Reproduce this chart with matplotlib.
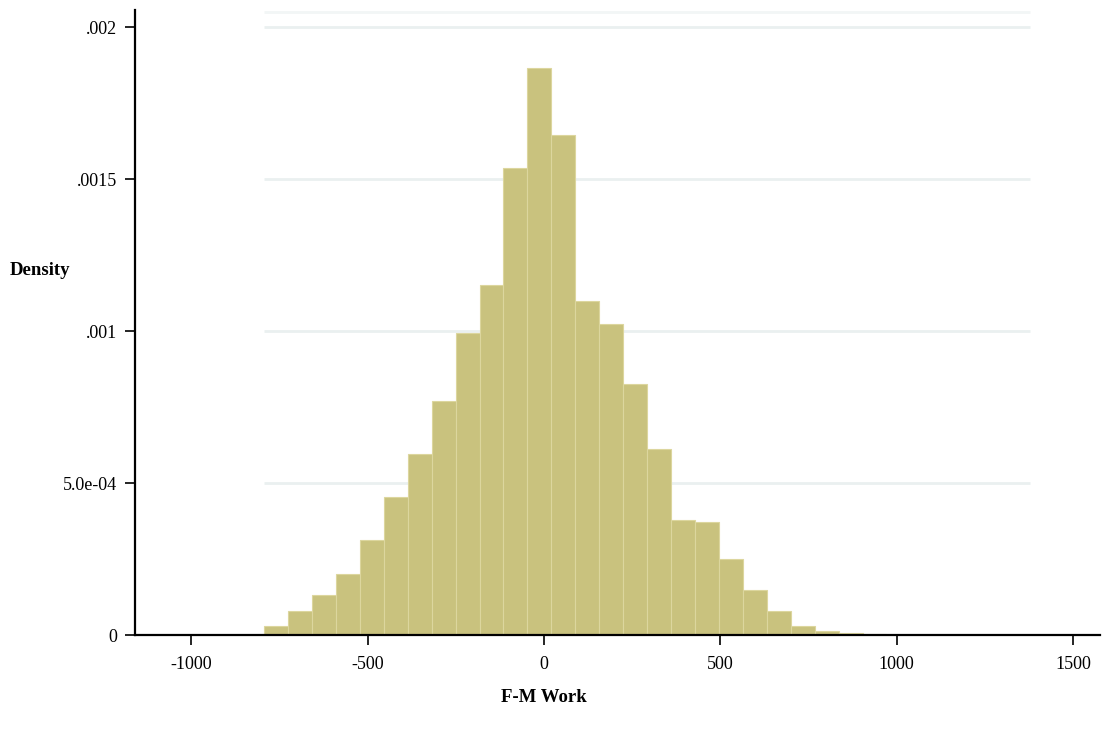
import numpy as np
import matplotlib.pyplot as plt

# histogram of F-M Work (density)
bin_start = -794
bin_width = 67.9
density = [2.96e-5, 7.9e-5, 1.32e-4, 2.01e-4, 3.13e-4, 4.54e-4, 5.95e-4, 7.70e-4,
           9.93e-4, 1.151e-3, 1.536e-3, 1.865e-3, 1.645e-3, 1.099e-3, 1.023e-3, 8.26e-4,
           6.12e-4, 3.78e-4, 3.72e-4, 2.50e-4, 1.48e-4, 7.9e-5, 3.0e-5, 1.3e-5,
           6e-6, 3e-6, 1.5e-6, 1e-6, 1e-6, 1e-6, 0.5e-6, 1e-6]
x_ticks = [-1000, -500, 0, 500, 1000, 1500]
y_ticks = [0, 0.0005, 0.001, 0.0015, 0.002]
y_labels = ['0', '5.0e-04', '.001', '.0015', '.002']

plt.rcParams['font.family'] = ['Liberation Serif', 'DejaVu Serif']
plt.rcParams['axes.unicode_minus'] = False

fig = plt.figure(figsize=(11.05, 7.4), dpi=100)
ax = fig.add_axes([135/1105, 1-635/740, (1100-135)/1105, (635-10)/740])

edges = bin_start + bin_width*np.arange(len(density)+1)

# gridlines only over data range
for g in [0.0005, 0.001, 0.0015, 0.002]:
    ax.hlines(g, edges[0], edges[-1], color='#eaf0f0', lw=2, zorder=0)
ax.hlines(0.00205, edges[0], edges[-1], color='#f2f6f6', lw=2, zorder=0)

ax.bar(edges[:-1], density, width=bin_width, align='edge',
       color='#c9c27e', edgecolor='#dcd69e', linewidth=0.8, zorder=2)

ax.set_xlim(-1160, 1577)
ax.set_ylim(0, 0.002056)
ax.set_xticks(x_ticks)
ax.set_xticklabels([str(v) for v in x_ticks])
ax.set_yticks(y_ticks)
ax.set_yticklabels(y_labels)
ax.tick_params(direction='out', length=7, width=1.2, labelsize=13, color='black')
ax.tick_params(axis='x', pad=8)
ax.tick_params(axis='y', pad=6)

for s in ['top', 'right']:
    ax.spines[s].set_visible(False)
for s in ['left', 'bottom']:
    ax.spines[s].set_linewidth(1.6)

fig.text(544/1105, 1-697/740, 'F-M Work', ha='center', va='center',
         fontsize=13.5, fontweight='bold')
fig.text(40/1105, 1-270/740, 'Density', ha='center', va='center',
         fontsize=13.5, fontweight='bold')

plt.savefig('out.png', dpi=100)
